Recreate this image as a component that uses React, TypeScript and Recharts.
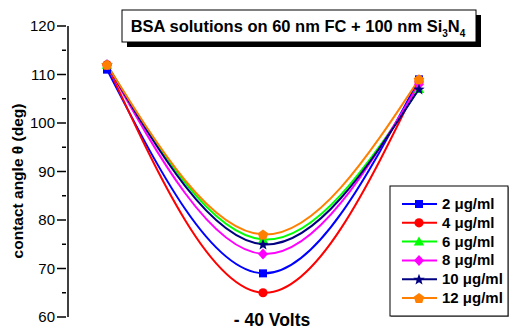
import React from 'react';
import { LineChart, Line, XAxis, YAxis } from 'recharts';

const categories = ['initial', '- 40 Volts', 'recovered'];
const seriesNames = ['2 μg/ml', '4 μg/ml', '6 μg/ml', '8 μg/ml', '10 μg/ml', '12 μg/ml'];
const seriesKeys = ['c2', 'c4', 'c6', 'c8', 'c10', 'c12'];
const c2 = [111, 69, 109];
const c4 = [112, 65, 108.5];
const c6 = [112, 76, 107];
const c8 = [112, 73, 108];
const c10 = [112, 75, 107];
const c12 = [112, 77, 109];
const seriesValues = [c2, c4, c6, c8, c10, c12];
const colors = ['#0000FF', '#FF0000', '#00FF00', '#FF00FF', '#000080', '#FF8000'];
const shapes = ['square', 'circle', 'triangle', 'diamond', 'star', 'pentagon'];
const yTicks = [60, 65, 70, 75, 80, 85, 90, 95, 100, 105, 110, 115, 120];

const data = categories.map((cat, i) => {
  const row: Record<string, any> = { cat };
  seriesKeys.forEach((k, s) => {
    row[k] = seriesValues[s][i];
  });
  return row;
});

const FONT = '"Liberation Sans", Arial, Helvetica, sans-serif';

function polyPoints(cx: number, cy: number, n: number, r: number, rot: number, inner?: number) {
  const pts: string[] = [];
  const count = inner ? n * 2 : n;
  for (let i = 0; i < count; i++) {
    const ang = rot + (i * Math.PI * 2) / count;
    const rr = inner ? (i % 2 === 0 ? r : inner) : r;
    pts.push(`${(cx + rr * Math.cos(ang)).toFixed(2)},${(cy + rr * Math.sin(ang)).toFixed(2)}`);
  }
  return pts.join(' ');
}

function Marker({ shape, cx, cy, color }: { shape: string; cx: number; cy: number; color: string }) {
  const up = -Math.PI / 2;
  switch (shape) {
    case 'square':
      return <rect x={cx - 4} y={cy - 4} width={8} height={8} fill={color} />;
    case 'circle':
      return <circle cx={cx} cy={cy} r={4.6} fill={color} />;
    case 'triangle':
      return <polygon points={polyPoints(cx, cy + 1, 3, 6, up)} fill={color} />;
    case 'diamond':
      return <polygon points={`${cx},${cy - 5.5} ${cx + 5},${cy} ${cx},${cy + 5.5} ${cx - 5},${cy}`} fill={color} />;
    case 'star':
      return <polygon points={polyPoints(cx, cy + 0.5, 5, 6, up, 2.5)} fill={color} />;
    case 'pentagon':
      return <polygon points={polyPoints(cx, cy + 0.5, 5, 5.5, up)} fill={color} />;
    default:
      return null;
  }
}

function YTick(props: any) {
  const { x, y, payload } = props;
  const v = payload.value;
  const major = v % 10 === 0;
  const ax = x + 8;
  return (
    <g>
      <line x1={ax - (major ? 9 : 4)} y1={y} x2={ax} y2={y} stroke="#000" strokeWidth={1.5} />
      {major && (
        <text x={ax - 11} y={y} dy={5} textAnchor="end" fontSize={15} fontFamily={FONT} fill="#000">
          {v}
        </text>
      )}
    </g>
  );
}

export default function App() {
  return (
    <div style={{ position: 'absolute', left: 0, top: 0, width: 510, height: 329, background: '#fff' }}>
      <LineChart
        width={510}
        height={329}
        data={data}
        margin={{ top: 26, right: 34, bottom: 12, left: 0 }}
      >
        <XAxis dataKey="cat" hide padding={{ left: 39, right: 57 }} />
        <YAxis
          type="number"
          domain={[60, 120]}
          ticks={yTicks}
          interval={0}
          width={68}
          tickLine={false}
          tickSize={8}
          tick={<YTick />}
          axisLine={{ stroke: '#000', strokeWidth: 1.5 }}
        />
        {seriesKeys.map((k, s) => (
          <Line
            key={k}
            dataKey={k}
            type="natural"
            stroke={colors[s]}
            strokeWidth={2}
            isAnimationActive={false}
            dot={(p: any) => (
              <Marker key={`${k}-${p.index}`} shape={shapes[s]} cx={p.cx} cy={p.cy} color={colors[s]} />
            )}
            activeDot={false}
          />
        ))}
      </LineChart>
      <svg
        width={510}
        height={329}
        style={{ position: 'absolute', left: 0, top: 0, pointerEvents: 'none' }}
      >
        <rect x={127} y={15} width={354} height={32} fill="#000" />
        <rect x={122} y={10} width={354} height={32} fill="#fff" stroke="#000" strokeWidth={1} />
        <text x={298} y={32} textAnchor="middle" fontSize={16.5} fontWeight="bold" fontFamily={FONT} fill="#000">
          BSA solutions on 60 nm FC + 100 nm Si
          <tspan dy={5} fontSize={10}>3</tspan>
          <tspan dy={-5}>N</tspan>
          <tspan dy={5} fontSize={10}>4</tspan>
        </text>
        <text
          transform="translate(23,181) rotate(-90)"
          textAnchor="middle"
          fontSize={15.5}
          fontWeight="bold"
          fontFamily={FONT}
          fill="#000"
        >
          contact angle θ (deg)
        </text>
        <text x={272} y={326} textAnchor="middle" fontSize={17.5} fontWeight="bold" fontFamily={FONT} fill="#000">
          - 40 Volts
        </text>
        <rect x={391} y={187} width={118} height={130} fill="#999" />
        <rect x={390} y={186} width={118} height={130} fill="#fff" stroke="#000" strokeWidth={1} />
        {seriesNames.map((name, s) => {
          const y = 204 + s * 18.8;
          return (
            <g key={name}>
              <line x1={402} y1={y} x2={437} y2={y} stroke={colors[s]} strokeWidth={2} />
              <Marker shape={shapes[s]} cx={419} cy={y} color={colors[s]} />
              <text x={442} y={y} dy={5} fontSize={15} fontWeight="bold" fontFamily={FONT} fill="#000">
                {name}
              </text>
            </g>
          );
        })}
      </svg>
    </div>
  );
}
